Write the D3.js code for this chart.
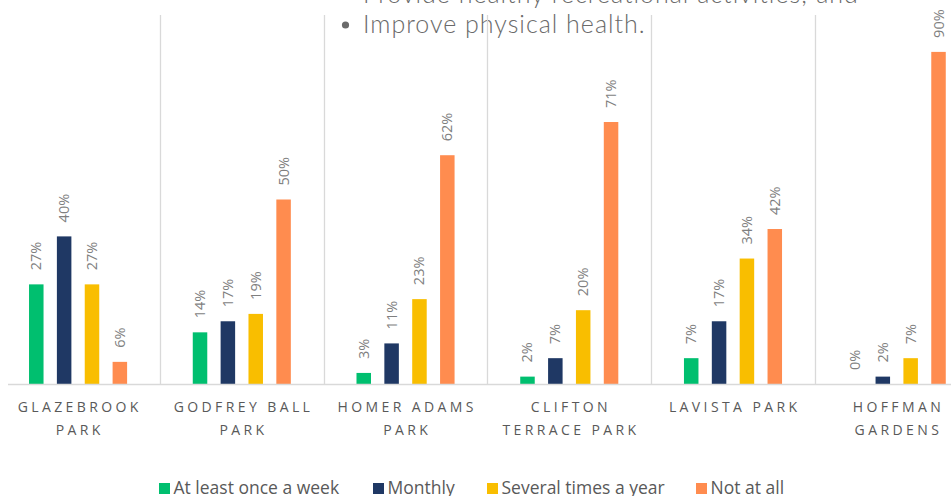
<!DOCTYPE html>
<html>
<head>
<meta charset="utf-8">
<script src="https://cdn.jsdelivr.net/npm/d3@7"></script>
<style>
  html, body { margin: 0; padding: 0; background: #fff; }
  svg { display: block; }
</style>
</head>
<body>
<svg id="chart" width="951" height="496"></svg>
<script>
const categories = [
  ["GLAZEBROOK", "PARK"],
  ["GODFREY BALL", "PARK"],
  ["HOMER ADAMS", "PARK"],
  ["CLIFTON", "TERRACE PARK"],
  ["LAVISTA PARK"],
  ["HOFFMAN", "GARDENS"]
];
const seriesNames = ["At least once a week", "Monthly", "Several times a year", "Not at all"];
const atLeastWeekly = [27, 14, 3, 2, 7, 0];
const monthly = [40, 17, 11, 7, 17, 2];
const severalYear = [27, 19, 23, 20, 34, 7];
const notAtAll = [6, 50, 62, 71, 42, 90];
const seriesColors = ["#00BF6F", "#1F3864", "#F9BE00", "#FF8C4F"];
const headerLines = ["Provide healthy recreational activities; and", "Improve physical health."];

const seriesValues = [atLeastWeekly, monthly, severalYear, notAtAll];
const catKeys = categories.map(c => c.join(" "));

const svg = d3.select("#chart");
const baseY = 384, topY = 15;

const x0 = d3.scaleBand().domain(catKeys).range([-3.8, 978.6]).paddingInner(0).paddingOuter(0);
const x1 = d3.scaleBand().domain(seriesNames).range([0, x0.bandwidth()]).paddingInner(0.4793).paddingOuter(1.1786);
const y = d3.scaleLinear().domain([0, 100]).range([baseY, topY]);

// header text (slide text overlapping the chart)
const hdr = svg.append("g").attr("font-family", "Lato, 'Open Sans', sans-serif")
  .attr("font-weight", 300).attr("fill", "#6a6a6a").attr("font-size", 25)
  .attr("letter-spacing", "1px");
hdr.append("text").attr("x", 363).attr("y", 3).text(headerLines[0]);
hdr.append("circle").attr("cx", 345.5).attr("cy", 25).attr("r", 3.6).attr("fill", "#6a6a6a");
hdr.append("text").attr("x", 363).attr("y", 33).text(headerLines[1]);

// vertical separators
svg.append("g").selectAll("line")
  .data(catKeys.slice(1))
  .join("line")
  .attr("x1", d => Math.round(x0(d)) + 0.5)
  .attr("x2", d => Math.round(x0(d)) + 0.5)
  .attr("y1", topY).attr("y2", baseY)
  .attr("stroke", "#d9d9d9").attr("stroke-width", 1.3);

// bars
const groups = svg.append("g").selectAll("g")
  .data(catKeys)
  .join("g")
  .attr("transform", d => `translate(${x0(d)},0)`);

groups.selectAll("rect")
  .data((d, i) => seriesNames.map((s, j) => ({ s, j, v: seriesValues[j][i] })))
  .join("rect")
  .attr("x", d => x1(d.s))
  .attr("width", x1.bandwidth())
  .attr("y", d => y(d.v))
  .attr("height", d => baseY - y(d.v))
  .attr("fill", d => seriesColors[d.j]);

// data labels
groups.selectAll("text")
  .data((d, i) => seriesNames.map((s, j) => ({ s, j, v: seriesValues[j][i] })))
  .join("text")
  .attr("transform", d => `translate(${x1(d.s) + x1.bandwidth() / 2 + 5},${y(d.v) - 14}) rotate(-90)`)
  .attr("font-family", "'Open Sans', sans-serif")
  .attr("font-size", 14.5)
  .attr("fill", "#7f7f7f")
  .attr("text-anchor", "start")
  .text(d => d.v + "%");

// baseline
svg.append("line").attr("x1", 8).attr("x2", 951).attr("y1", baseY + 0.5).attr("y2", baseY + 0.5)
  .attr("stroke", "#d9d9d9").attr("stroke-width", 1.5);

// category labels
const catLabels = svg.append("g").selectAll("text")
  .data(categories)
  .join("text")
  .attr("font-family", "'Open Sans', sans-serif")
  .attr("font-size", 14)
  .attr("letter-spacing", "3.4px")
  .attr("fill", "#595959")
  .attr("text-anchor", "middle");
catLabels.each(function (d, i) {
  const cx = x0(catKeys[i]) + x0.bandwidth() / 2 + 1.7;
  d3.select(this).selectAll("tspan").data(d).join("tspan")
    .attr("x", cx)
    .attr("y", (t, k) => 412 + k * 23)
    .text(t => t);
});

// legend
const legendX = [159, 373, 487, 696];
const legend = svg.append("g").selectAll("g")
  .data(seriesNames)
  .join("g")
  .attr("transform", (d, i) => `translate(${legendX[i]},483)`);
legend.append("rect").attr("width", 11).attr("height", 11).attr("fill", (d, i) => seriesColors[i]);
legend.append("text").attr("x", 14.5).attr("y", 11)
  .attr("font-family", "'Open Sans', sans-serif")
  .attr("font-size", 17.5)
  .attr("fill", "#595959")
  .text(d => d);
</script>
</body>
</html>
